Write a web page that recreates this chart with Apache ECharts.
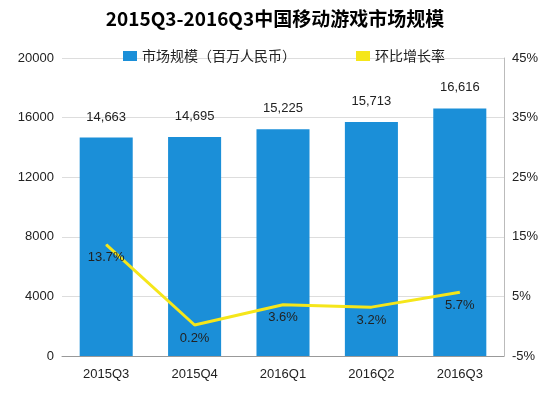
<!DOCTYPE html>
<html><head><meta charset="utf-8">
<script src="https://cdn.jsdelivr.net/npm/echarts@6/dist/echarts.min.js"></script>
<style>html,body{margin:0;padding:0;background:#fff}#c{width:550px;height:404px}</style>
</head><body><div id="c"></div>
<script>
const categories=['2015Q3','2015Q4','2016Q1','2016Q2','2016Q3'];
const marketSize=[14663,14695,15225,15713,16616];
const growth=[13.7,0.2,3.6,3.2,5.7];
const chart=echarts.init(document.getElementById('c'));
chart.setOption({
  title:{text:'2015Q3-2016Q3中国移动游戏市场规模',left:'center',top:4,textStyle:{fontSize:19,fontWeight:'bold',color:'#000',fontFamily:'Noto Sans CJK SC'}},
  legend:{top:44,left:118,itemWidth:14,itemHeight:10,itemGap:60,textStyle:{fontSize:14,color:'#222',fontFamily:'Noto Sans CJK SC'},
    data:[{name:'市场规模（百万人民币）',icon:'rect'},{name:'环比增长率',icon:'rect'}]},
  grid:{left:62,right:46,top:58,bottom:48},
  xAxis:{type:'category',data:categories,axisTick:{show:false},axisLine:{lineStyle:{color:'#999'}},
    axisLabel:{fontSize:13,color:'#222',margin:12}},
  yAxis:[{type:'value',min:0,max:20000,interval:4000,axisLabel:{fontSize:13,color:'#222',formatter:v=>String(v)},
    splitLine:{lineStyle:{color:'#ddd'}},axisLine:{show:false}},
    {type:'value',min:-5,max:45,interval:10,axisLabel:{formatter:'{value}%',fontSize:13,color:'#222'},
    splitLine:{show:false},axisLine:{show:true,lineStyle:{color:'#bbb'}}}],
  series:[{name:'市场规模（百万人民币）',type:'bar',data:marketSize,barWidth:'60%',itemStyle:{color:'#1b8fd8'},
    label:{show:true,position:'top',fontSize:13,color:'#222',distance:14,formatter:p=>p.value.toLocaleString('en-US')}},
   {name:'环比增长率',type:'line',yAxisIndex:1,data:growth,symbol:'circle',symbolSize:1,showSymbol:true,lineStyle:{color:'#f5e61a',width:3},itemStyle:{color:'#f5e61a'},
    label:{show:true,position:'bottom',distance:6,fontSize:13,color:'#222',formatter:'{c}%'},
    labelLayout:{hideOverlap:false}}]
});
</script></body></html>
